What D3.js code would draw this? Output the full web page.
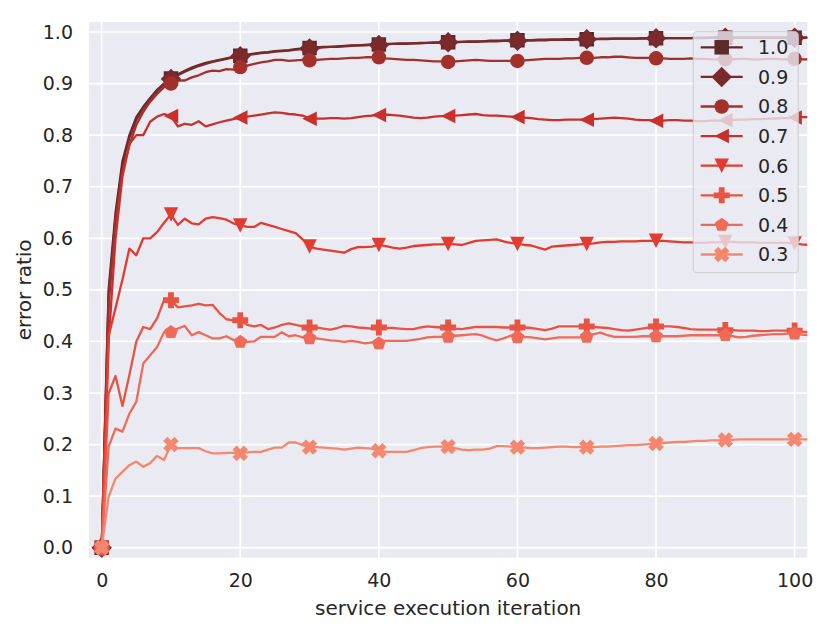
<!DOCTYPE html>
<html>
<head>
<meta charset="utf-8">
<script src="https://cdnjs.cloudflare.com/ajax/libs/d3/7.8.5/d3.min.js"></script>
<style>
  body { margin: 0; background: #fff; }
  svg { display: block; font-family: "DejaVu Sans", sans-serif; }
</style>
</head>
<body>
<svg id="chart" width="830" height="634"></svg>
<script>
// data, one value per iteration (0..102)
const iterations = d3.range(0, 103);
const seriesNames = ["1.0", "0.9", "0.8", "0.7", "0.6", "0.5", "0.4", "0.3"];
const markerTypes = ["square", "diamond", "circle", "triLeft", "triDown", "plus", "pentagon", "cross"];
const seriesColors = ["#5b2a2b", "#7a2a2a", "#a2302b", "#c9302b", "#e13c2f", "#e85443", "#ef6b58", "#f5876f"];

const s10 = [0, 0.500, 0.650, 0.750, 0.800, 0.835, 0.855, 0.872, 0.888, 0.900, 0.910,
  0.918, 0.925, 0.931, 0.936, 0.940, 0.943, 0.946, 0.949, 0.952, 0.954,
  0.956, 0.958, 0.960, 0.961, 0.963, 0.964, 0.965, 0.967, 0.968, 0.969,
  0.970, 0.971, 0.971, 0.972, 0.973, 0.974, 0.974, 0.975, 0.976, 0.976,
  0.977, 0.977, 0.978, 0.978, 0.978, 0.979, 0.979, 0.980, 0.980, 0.980,
  0.981, 0.981, 0.982, 0.982, 0.982, 0.983, 0.983, 0.983, 0.984, 0.984,
  0.984, 0.984, 0.985, 0.985, 0.985, 0.985, 0.986, 0.986, 0.986, 0.986,
  0.986, 0.987, 0.987, 0.987, 0.987, 0.987, 0.987, 0.988, 0.988, 0.988,
  0.988, 0.988, 0.988, 0.988, 0.988, 0.989, 0.989, 0.989, 0.989, 0.989,
  0.989, 0.989, 0.989, 0.989, 0.989, 0.989, 0.989, 0.989, 0.989, 0.989, 0.989, 0.989];

const s09 = [0, 0.490, 0.640, 0.742, 0.795, 0.830, 0.852, 0.870, 0.886, 0.898, 0.909,
  0.916, 0.923, 0.929, 0.934, 0.938, 0.942, 0.945, 0.948, 0.951, 0.953,
  0.955, 0.957, 0.959, 0.960, 0.962, 0.963, 0.964, 0.966, 0.967, 0.968,
  0.969, 0.970, 0.971, 0.971, 0.972, 0.973, 0.974, 0.974, 0.975, 0.975,
  0.976, 0.977, 0.977, 0.977, 0.978, 0.978, 0.979, 0.979, 0.979, 0.980,
  0.980, 0.981, 0.981, 0.981, 0.982, 0.982, 0.982, 0.983, 0.983, 0.983,
  0.984, 0.984, 0.984, 0.984, 0.985, 0.985, 0.985, 0.985, 0.986, 0.986,
  0.986, 0.986, 0.986, 0.987, 0.987, 0.987, 0.987, 0.987, 0.987, 0.988,
  0.988, 0.988, 0.988, 0.988, 0.988, 0.988, 0.988, 0.989, 0.989, 0.989,
  0.989, 0.989, 0.989, 0.989, 0.989, 0.989, 0.989, 0.989, 0.989, 0.989, 0.989, 0.989];

const s08 = [0, 0.470, 0.630, 0.730, 0.780, 0.820, 0.845, 0.865, 0.880, 0.893, 0.900,
  0.906, 0.906, 0.912, 0.916, 0.922, 0.925, 0.924, 0.928, 0.927, 0.932,
  0.935, 0.938, 0.941, 0.943, 0.946, 0.946, 0.944, 0.945, 0.946, 0.945,
  0.946, 0.947, 0.948, 0.948, 0.949, 0.950, 0.950, 0.951, 0.951, 0.951,
  0.949, 0.948, 0.947, 0.946, 0.946, 0.945, 0.944, 0.943, 0.943, 0.942,
  0.943, 0.944, 0.945, 0.946, 0.945, 0.944, 0.944, 0.944, 0.944, 0.944,
  0.945, 0.946, 0.947, 0.948, 0.948, 0.948, 0.949, 0.949, 0.950, 0.950,
  0.950, 0.951, 0.951, 0.952, 0.952, 0.951, 0.950, 0.950, 0.950, 0.949,
  0.949, 0.948, 0.948, 0.948, 0.949, 0.948, 0.948, 0.947, 0.947, 0.947,
  0.947, 0.948, 0.948, 0.947, 0.947, 0.948, 0.948, 0.947, 0.947, 0.948, 0.947, 0.947];

const s07 = [0, 0.400, 0.600, 0.720, 0.783, 0.800, 0.800, 0.826, 0.836, 0.841, 0.837,
  0.817, 0.822, 0.820, 0.827, 0.817, 0.821, 0.825, 0.828, 0.831, 0.834,
  0.836, 0.838, 0.840, 0.842, 0.844, 0.843, 0.841, 0.840, 0.838, 0.832,
  0.832, 0.832, 0.833, 0.833, 0.832, 0.833, 0.835, 0.837, 0.838, 0.839,
  0.840, 0.839, 0.838, 0.836, 0.834, 0.833, 0.834, 0.836, 0.837, 0.837,
  0.838, 0.839, 0.840, 0.841, 0.839, 0.838, 0.838, 0.837, 0.836, 0.835,
  0.834, 0.833, 0.831, 0.830, 0.829, 0.829, 0.830, 0.830, 0.830, 0.830,
  0.831, 0.832, 0.833, 0.834, 0.833, 0.832, 0.830, 0.829, 0.829, 0.828,
  0.828, 0.829, 0.829, 0.828, 0.828, 0.827, 0.827, 0.828, 0.828, 0.829,
  0.829, 0.830, 0.830, 0.831, 0.831, 0.832, 0.832, 0.833, 0.833, 0.834, 0.835, 0.835];

const s06 = [0, 0.410, 0.465, 0.520, 0.580, 0.567, 0.600, 0.600, 0.612, 0.630, 0.646,
  0.626, 0.638, 0.629, 0.627, 0.638, 0.641, 0.639, 0.636, 0.629, 0.625,
  0.622, 0.622, 0.630, 0.626, 0.622, 0.618, 0.614, 0.610, 0.598, 0.584,
  0.580, 0.578, 0.576, 0.574, 0.572, 0.579, 0.583, 0.583, 0.584, 0.587,
  0.585, 0.582, 0.580, 0.582, 0.585, 0.586, 0.587, 0.588, 0.588, 0.589,
  0.588, 0.587, 0.591, 0.595, 0.596, 0.597, 0.598, 0.594, 0.591, 0.589,
  0.587, 0.586, 0.582, 0.578, 0.584, 0.585, 0.586, 0.587, 0.588, 0.589,
  0.590, 0.592, 0.593, 0.593, 0.594, 0.594, 0.594, 0.595, 0.595, 0.595,
  0.595, 0.594, 0.593, 0.592, 0.592, 0.591, 0.591, 0.592, 0.592, 0.593,
  0.593, 0.592, 0.592, 0.592, 0.591, 0.591, 0.591, 0.591, 0.591, 0.590, 0.588, 0.587];

const s05 = [0, 0.299, 0.333, 0.275, 0.335, 0.400, 0.428, 0.424, 0.445, 0.480, 0.480,
  0.466, 0.468, 0.470, 0.473, 0.470, 0.471, 0.455, 0.443, 0.441, 0.441,
  0.432, 0.429, 0.432, 0.424, 0.427, 0.432, 0.435, 0.432, 0.429, 0.427,
  0.427, 0.425, 0.423, 0.426, 0.430, 0.429, 0.427, 0.426, 0.425, 0.427,
  0.426, 0.426, 0.425, 0.424, 0.424, 0.427, 0.429, 0.428, 0.427, 0.427,
  0.425, 0.424, 0.426, 0.428, 0.428, 0.428, 0.428, 0.427, 0.427, 0.427,
  0.427, 0.426, 0.424, 0.422, 0.425, 0.429, 0.429, 0.429, 0.429, 0.429,
  0.428, 0.427, 0.426, 0.424, 0.422, 0.421, 0.423, 0.425, 0.427, 0.429,
  0.429, 0.429, 0.428, 0.426, 0.424, 0.423, 0.423, 0.423, 0.423, 0.422,
  0.422, 0.421, 0.421, 0.421, 0.420, 0.420, 0.421, 0.421, 0.421, 0.421, 0.419, 0.418];

const s04 = [0, 0.196, 0.231, 0.225, 0.260, 0.283, 0.357, 0.373, 0.389, 0.418, 0.418,
  0.425, 0.430, 0.412, 0.418, 0.412, 0.406, 0.406, 0.410, 0.403, 0.399,
  0.399, 0.400, 0.409, 0.409, 0.409, 0.418, 0.410, 0.412, 0.408, 0.406,
  0.406, 0.404, 0.402, 0.401, 0.399, 0.401, 0.399, 0.396, 0.398, 0.396,
  0.401, 0.401, 0.401, 0.401, 0.403, 0.405, 0.408, 0.409, 0.409, 0.409,
  0.411, 0.412, 0.413, 0.414, 0.411, 0.406, 0.402, 0.406, 0.411, 0.408,
  0.409, 0.408, 0.406, 0.404, 0.406, 0.408, 0.408, 0.408, 0.408, 0.409,
  0.414, 0.417, 0.412, 0.409, 0.409, 0.409, 0.409, 0.410, 0.410, 0.410,
  0.410, 0.410, 0.410, 0.411, 0.412, 0.412, 0.412, 0.412, 0.412, 0.412,
  0.410, 0.408, 0.409, 0.411, 0.412, 0.413, 0.414, 0.414, 0.415, 0.415, 0.413, 0.412];

const s03 = [0, 0.099, 0.134, 0.147, 0.160, 0.167, 0.157, 0.164, 0.178, 0.170, 0.200,
  0.193, 0.193, 0.193, 0.193, 0.187, 0.183, 0.183, 0.184, 0.184, 0.183,
  0.185, 0.186, 0.186, 0.190, 0.194, 0.194, 0.204, 0.204, 0.199, 0.195,
  0.195, 0.194, 0.193, 0.192, 0.190, 0.192, 0.194, 0.193, 0.192, 0.188,
  0.186, 0.186, 0.186, 0.186, 0.189, 0.193, 0.195, 0.196, 0.196, 0.196,
  0.193, 0.190, 0.189, 0.190, 0.190, 0.192, 0.197, 0.197, 0.196, 0.195,
  0.194, 0.193, 0.193, 0.194, 0.195, 0.196, 0.196, 0.195, 0.195, 0.195,
  0.195, 0.196, 0.196, 0.197, 0.198, 0.199, 0.199, 0.200, 0.201, 0.202,
  0.203, 0.204, 0.205, 0.205, 0.206, 0.207, 0.207, 0.208, 0.208, 0.209,
  0.209, 0.210, 0.210, 0.210, 0.210, 0.210, 0.210, 0.210, 0.210, 0.210, 0.210, 0.210];

const xTicks = [0, 20, 40, 60, 80, 100];
const yTicks = [0, 0.1, 0.2, 0.3, 0.4, 0.5, 0.6, 0.7, 0.8, 0.9, 1.0];
const markEvery = 10;

const allSeries = [s10, s09, s08, s07, s06, s05, s04, s03].map((vals, i) => ({
  name: seriesNames[i],
  marker: markerTypes[i],
  color: seriesColors[i],
  points: vals.map((v, j) => ({ x: iterations[j], y: v })),
}));

// layout
const plot = { left: 89, right: 807.3, top: 22, bottom: 557.7 };
const ink = "#262626";
const lineW = 2.3;
const ms = 14.5;

const svg = d3.select("#chart");

const x = d3.scaleLinear().domain([-1.83, 101.83]).range([plot.left, plot.right]);
const y = d3.scaleLinear().domain([-0.0194, 1.0194]).range([plot.bottom, plot.top]);

// matplotlib-like marker outlines centred on 0,0
const markerPath = (type, s) => {
  const h = s / 2;
  const poly = (pts) => "M" + pts.map((p) => p[0].toFixed(2) + "," + p[1].toFixed(2)).join("L") + "Z";
  switch (type) {
    case "square":
      return poly([[-h, -h], [h, -h], [h, h], [-h, h]]);
    case "diamond": {
      const d = h * Math.SQRT2;
      return poly([[0, -d], [d, 0], [0, d], [-d, 0]]);
    }
    case "circle":
      return `M${h},0A${h},${h} 0 1,1 ${-h},0A${h},${h} 0 1,1 ${h},0Z`;
    case "triLeft":
      return poly([[-h, 0], [h, -h], [h, h]]);
    case "triDown":
      return poly([[0, h], [-h, -h], [h, -h]]);
    case "pentagon":
      return poly(d3.range(5).map((k) => {
        const a = -Math.PI / 2 + (k * 2 * Math.PI) / 5;
        return [h * Math.cos(a), h * Math.sin(a)];
      }));
    case "plus":
    case "cross": {
      // filled plus, rotated 45 degrees for the filled X
      const u = (s * 1.1) / 6;
      const base = [[-1.1, -3], [1.1, -3], [1.1, -1.1], [3, -1.1], [3, 1.1], [1.1, 1.1], [1.1, 3], [-1.1, 3], [-1.1, 1.1], [-3, 1.1], [-3, -1.1], [-1.1, -1.1]];
      const rot = type === "cross" ? Math.PI / 4 : 0;
      return poly(base.map(([px, py]) => [
        u * (px * Math.cos(rot) - py * Math.sin(rot)),
        u * (px * Math.sin(rot) + py * Math.cos(rot)),
      ]));
    }
  }
};

svg.append("defs").append("clipPath").attr("id", "plotClip")
  .append("rect")
  .attr("x", plot.left).attr("y", plot.top)
  .attr("width", plot.right - plot.left).attr("height", plot.bottom - plot.top);

// background + grid
svg.append("rect")
  .attr("x", plot.left).attr("y", plot.top)
  .attr("width", plot.right - plot.left).attr("height", plot.bottom - plot.top)
  .attr("fill", "#eaeaf2");

const grid = svg.append("g").attr("stroke", "#fff").attr("stroke-width", 1.7);
grid.selectAll("line.gx").data(xTicks).enter().append("line")
  .attr("x1", (d) => x(d)).attr("x2", (d) => x(d))
  .attr("y1", plot.top).attr("y2", plot.bottom);
grid.selectAll("line.gy").data(yTicks).enter().append("line")
  .attr("y1", (d) => y(d)).attr("y2", (d) => y(d))
  .attr("x1", plot.left).attr("x2", plot.right);

// axes (labels only, no spines or tick marks)
const xAxis = svg.append("g")
  .attr("transform", `translate(0,${plot.bottom})`)
  .call(d3.axisBottom(x).tickValues(xTicks).tickFormat(d3.format("d")).tickSize(0).tickPadding(16));
const yAxis = svg.append("g")
  .attr("transform", `translate(${plot.left},0)`)
  .call(d3.axisLeft(y).tickValues(yTicks).tickFormat(d3.format(".1f")).tickSize(0).tickPadding(16));
[xAxis, yAxis].forEach((ax) => {
  ax.select(".domain").remove();
  ax.selectAll("text").attr("fill", ink).style("font-size", "19px").style("font-family", "DejaVu Sans");
});

svg.append("text")
  .attr("x", (plot.left + plot.right) / 2).attr("y", 615)
  .attr("text-anchor", "middle").attr("fill", ink)
  .style("font-size", "20px")
  .text("service execution iteration");

svg.append("text")
  .attr("transform", `translate(31,${(plot.top + plot.bottom) / 2}) rotate(-90)`)
  .attr("text-anchor", "middle").attr("fill", ink)
  .style("font-size", "20px")
  .text("error ratio");

// series
const line = d3.line().x((d) => x(d.x)).y((d) => y(d.y));
const marks = svg.append("g").attr("clip-path", "url(#plotClip)");

allSeries.forEach((s) => {
  const g = marks.append("g");
  g.append("path")
    .datum(s.points)
    .attr("d", line)
    .attr("fill", "none")
    .attr("stroke", s.color)
    .attr("stroke-width", lineW)
    .attr("stroke-linejoin", "round")
    .attr("stroke-linecap", "round");
  g.selectAll("path.mk")
    .data(s.points.filter((d) => d.x % markEvery === 0 && d.x <= 100))
    .enter()
    .append("path")
    .attr("class", "mk")
    .attr("transform", (d) => `translate(${x(d.x)},${y(d.y)})`)
    .attr("d", markerPath(s.marker, ms))
    .attr("fill", s.color);
});

// legend
const leg = { x: 693.3, y: 31.7, w: 105, h: 241, row: 29.6, first: 47.3 };
const legend = svg.append("g");
legend.append("rect")
  .attr("x", leg.x).attr("y", leg.y).attr("width", leg.w).attr("height", leg.h)
  .attr("rx", 4).attr("ry", 4)
  .attr("fill", "#eaeaf2").attr("fill-opacity", 0.8)
  .attr("stroke", "#cccccc").attr("stroke-opacity", 0.8).attr("stroke-width", 1.2);

const rows = legend.selectAll("g.row").data(allSeries).enter().append("g")
  .attr("transform", (d, i) => `translate(0,${leg.first + i * leg.row})`);
rows.append("line")
  .attr("x1", 700.7).attr("x2", 742.7).attr("y1", 0).attr("y2", 0)
  .attr("stroke", (d) => d.color).attr("stroke-width", lineW);
rows.append("path")
  .attr("transform", "translate(721.7,0)")
  .attr("d", (d) => markerPath(d.marker, ms))
  .attr("fill", (d) => d.color);
rows.append("text")
  .attr("x", 758).attr("y", 0).attr("dy", "0.36em")
  .attr("fill", ink).style("font-size", "19px")
  .text((d) => d.name);
</script>
</body>
</html>
